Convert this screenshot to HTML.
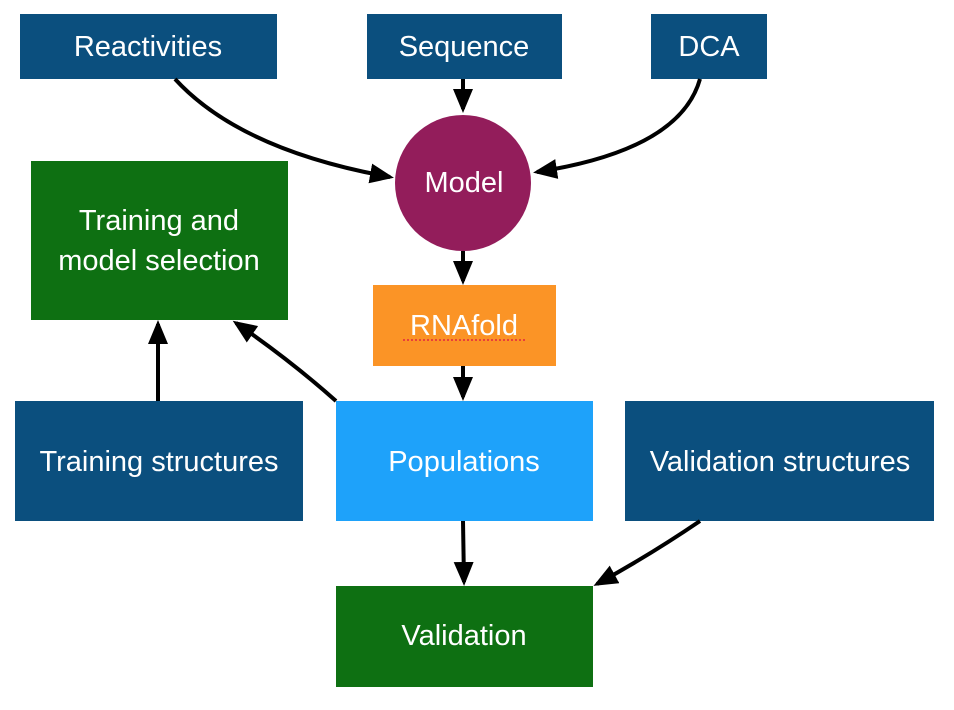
<!DOCTYPE html>
<html><head><meta charset="utf-8"><style>
html,body{margin:0;padding:0;background:#fff;}
svg{display:block;}
text{font-family:"Liberation Sans",Arial,sans-serif;font-size:29px;fill:#fff;text-anchor:middle;dominant-baseline:central;}
</style></head><body>
<svg width="954" height="710" viewBox="0 0 954 710">
<defs>
<marker id="a" markerWidth="6" markerHeight="5" refX="5" refY="2.5" orient="auto" markerUnits="strokeWidth">
<path d="M0,0 L6,2.5 L0,5 z" fill="#000"/></marker>
</defs>
<rect x="20" y="14" width="257" height="65" fill="#0b4f7e"/>
<text x="148" y="47">Reactivities</text>
<rect x="367" y="14" width="195" height="65" fill="#0b4f7e"/>
<text x="464" y="47">Sequence</text>
<rect x="651" y="14" width="116" height="65" fill="#0b4f7e"/>
<text x="709" y="47">DCA</text>
<circle cx="463" cy="183" r="68" fill="#931d5b"/>
<text x="464" y="183">Model</text>
<rect x="31" y="161" width="257" height="159" fill="#0e7012"/>
<text x="159" y="221">Training and</text>
<text x="159" y="261">model selection</text>
<rect x="373" y="285" width="183" height="81" fill="#fb9426"/>
<text x="464" y="326">RNAfold</text>
<line x1="403" y1="340" x2="525" y2="340" stroke="#e8403a" stroke-width="2" stroke-dasharray="2,2"/>
<rect x="15" y="401" width="288" height="120" fill="#0b4f7e"/>
<text x="159" y="462">Training structures</text>
<rect x="336" y="401" width="257" height="120" fill="#1ea2fa"/>
<text x="464" y="462">Populations</text>
<rect x="625" y="401" width="309" height="120" fill="#0b4f7e"/>
<text x="780" y="462">Validation structures</text>
<rect x="336" y="586" width="257" height="101" fill="#0e7012"/>
<text x="464" y="636">Validation</text>
<g stroke="#000" stroke-width="4" fill="none" marker-end="url(#a)">
<path d="M175,79 Q240,150 390,177"/>
<path d="M463,79 L463,109"/>
<path d="M700,79 Q680,150 537,172"/>
<path d="M463,251 L463,281"/>
<path d="M463,366 L463,397"/>
<path d="M158,401 L158,324"/>
<path d="M336,401 Q290,360 236,323"/>
<path d="M463,521 L464,582"/>
<path d="M700,521 Q650,555 597,584"/>
</g>
</svg>
</body></html>
